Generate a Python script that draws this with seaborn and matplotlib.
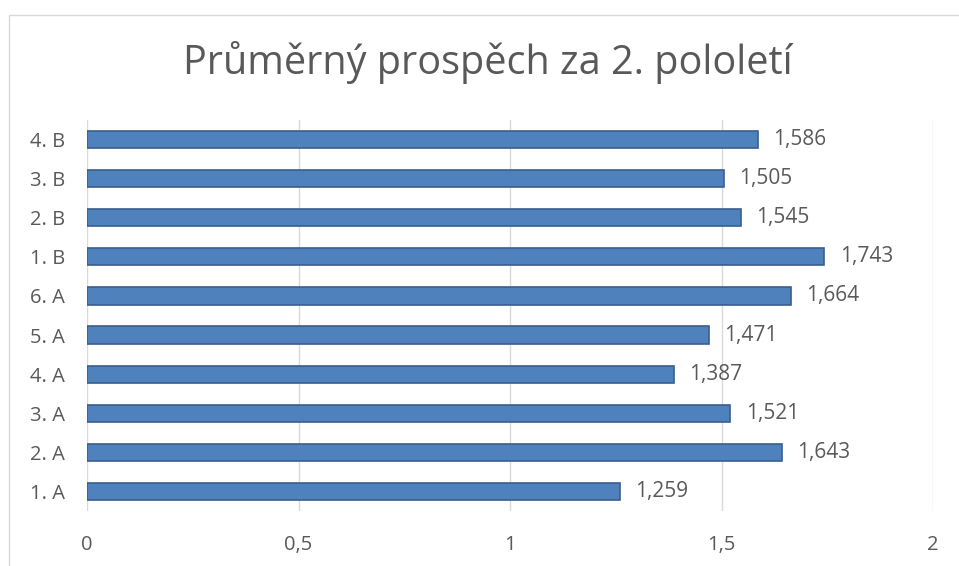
import matplotlib
matplotlib.use("Agg")
import matplotlib.pyplot as plt
import seaborn as sns
import pandas as pd
from matplotlib.patches import Rectangle

# data (top to bottom as shown)
classes = ["4. B", "3. B", "2. B", "1. B", "6. A", "5. A", "4. A", "3. A", "2. A", "1. A"]
averages = [1.586, 1.505, 1.545, 1.743, 1.664, 1.471, 1.387, 1.521, 1.643, 1.259]
x_ticks = [0, 0.5, 1, 1.5, 2]
x_tick_labels = ["0", "0,5", "1", "1,5", "2"]
title = "Průměrný prospěch za 2. pololetí"

sns.set_theme(style="white")
plt.rcParams["font.family"] = ["Open Sans", "DejaVu Sans"]

df = pd.DataFrame({"trida": classes, "prumer": averages})

grey = "#595959"
fig = plt.figure(figsize=(9.59, 5.66), dpi=100)
ax = fig.add_axes([87 / 959, 55 / 566, 846 / 959, 391 / 566])

sns.barplot(data=df, y="trida", x="prumer", orient="h", color="#4F81BD",
            width=0.44, saturation=1, edgecolor="#3A5F8F", linewidth=1.2, ax=ax)

ax.set_xlim(0, 2)
ax.set_ylim(9.5, -0.5)
ax.set_xticks(x_ticks)
ax.set_xticklabels(x_tick_labels, color=grey, fontsize=14.5)
ax.tick_params(axis="y", labelsize=14.5, labelcolor=grey, pad=16, length=0)
ax.tick_params(axis="x", pad=17, length=0)
ax.set_xlabel("")
ax.set_ylabel("")
for s in ax.spines.values():
    s.set_visible(False)
ax.grid(axis="x", color="#D9D9D9", linewidth=1)
ax.set_axisbelow(True)

for i, v in enumerate(averages):
    ax.annotate(f"{v:.3f}".replace(".", ","), xy=(v, i), xytext=(11, 0),
                textcoords="offset points", va="center", ha="left",
                color=grey, fontsize=15)

fig.text(488 / 959, 1 - 62 / 566, title, ha="center", va="center", color=grey, fontsize=28.5)

# chart border
fig.patches.append(Rectangle((9 / 959, -0.05), 1.2, 1 - 15 / 566 + 0.05,
                             transform=fig.transFigure, fill=False,
                             edgecolor="#D9D9D9", linewidth=1))

fig.savefig("out.png", dpi=100)
